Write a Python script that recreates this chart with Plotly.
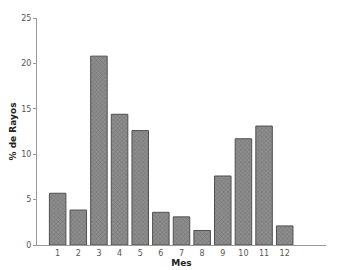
import plotly.graph_objects as go

meses = [1, 2, 3, 4, 5, 6, 7, 8, 9, 10, 11, 12]
porcentaje = [5.7, 3.85, 20.8, 14.4, 12.6, 3.6, 3.1, 1.6, 7.6, 11.7, 13.1, 2.1]
tick_vals_y = [0, 5, 10, 15, 20, 25]

fig = go.Figure()
fig.add_trace(go.Bar(
    x=meses, y=porcentaje, width=0.8,
    marker=dict(color="#858585",
                line=dict(color="#505050", width=1),
                pattern=dict(shape="x", size=3, solidity=0.3, fgcolor="#5e5e5e", bgcolor="#8c8c8c")),
))
fig.update_layout(
    width=339, height=262,
    margin=dict(l=29, r=21, t=10, b=25),
    plot_bgcolor="white", paper_bgcolor="white",
    showlegend=False,
    font=dict(family="DejaVu Sans", size=8, color="#555"),
)
fig.update_xaxes(range=[0, 14], tickvals=meses, ticktext=[str(m) for m in meses],
                 showline=True, linecolor="#999", linewidth=1, showgrid=False,
                 zeroline=False, ticks="", ticklen=0, automargin=False,
                 title=dict(text="<b>Mes</b>", font=dict(size=9, color="#222"), standoff=2))
fig.update_yaxes(range=[0, 25], tickvals=tick_vals_y,
                 showline=True, linecolor="#999", linewidth=1, showgrid=False,
                 zeroline=False, ticks="outside", ticklen=3, tickcolor="#999",
                 automargin=False,
                 title=dict(text="<b>% de Rayos</b>", font=dict(size=9, color="#222"), standoff=4))
fig.write_html("out.html")
